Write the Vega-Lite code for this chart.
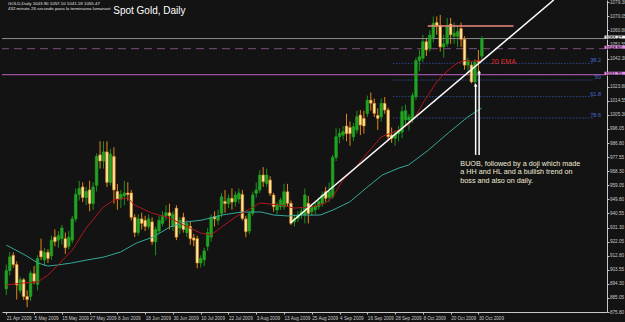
{
"$schema":"https://vega.github.io/schema/vega-lite/v6.json",
"width":605,"height":312,
"autosize":{"type":"none"},
"padding":{"left":2,"top":0,"right":18,"bottom":10},
"background":"#131313",
"config":{"view":{"stroke":null,"fill":"#131313"},"axis":{"grid":false,"title":null,"domainColor":"#c8c8c8","tickColor":"#c8c8c8","labelColor":"#c8c8c8","labelFont":"Liberation Sans","labelFontSize":4.6,"domainWidth":1,"tickSize":2,"tickWidth":1,"labelOverlap":false,"labelFlush":false,"tickCount":200}},
"datasets":{
"candles":[
{"i":0,"o":891,"h":907,"l":887,"c":903},{"i":1,"o":903,"h":915,"l":900,"c":912},{"i":2,"o":913,"h":915,"l":905,"c":907},{"i":3,"o":907,"h":909,"l":884,"c":893.5},{"i":4,"o":890,"h":899,"l":888,"c":897},{"i":5,"o":897,"h":898,"l":883.7,"c":886},{"i":6,"o":886,"h":890,"l":879,"c":884},{"i":7,"o":886,"h":903,"l":883,"c":901.4},{"i":8,"o":901,"h":906,"l":894,"c":896},{"i":9,"o":894,"h":913,"l":890,"c":911},
{"i":10,"o":916,"h":924,"l":910,"c":912},{"i":11,"o":910,"h":918,"l":906,"c":915},{"i":12,"o":915,"h":917,"l":908,"c":911},{"i":13,"o":912.7,"h":926,"l":910,"c":923},{"i":14,"o":925,"h":930,"l":919,"c":922},{"i":15,"o":923,"h":929,"l":918,"c":926},{"i":16,"o":924,"h":933,"l":920,"c":931},{"i":17,"o":924,"h":928,"l":914,"c":918},{"i":18,"o":919,"h":929,"l":917,"c":925},{"i":19,"o":923,"h":939,"l":921,"c":937},
{"i":20,"o":937,"h":957,"l":935,"c":953},{"i":21,"o":953,"h":962,"l":949,"c":957},{"i":22,"o":958,"h":961,"l":948,"c":951},{"i":23,"o":951,"h":958,"l":946,"c":955},{"i":24,"o":956,"h":962,"l":942,"c":947},{"i":25,"o":947,"h":961,"l":943,"c":958},{"i":26,"o":959,"h":980,"l":955,"c":978},{"i":27,"o":979,"h":988,"l":970,"c":975},{"i":28,"o":975,"h":988,"l":970,"c":981},{"i":29,"o":981,"h":988,"l":958,"c":961},
{"i":30,"o":961,"h":983,"l":959,"c":979.5},{"i":31,"o":978,"h":984,"l":947,"c":956},{"i":32,"o":955,"h":960,"l":943,"c":950},{"i":33,"o":950,"h":956,"l":944,"c":953},{"i":34,"o":952,"h":962,"l":946,"c":954},{"i":35,"o":954,"h":961,"l":949,"c":953},{"i":36,"o":954,"h":956,"l":936,"c":938},{"i":37,"o":938,"h":940,"l":925,"c":928},{"i":38,"o":928,"h":940,"l":926,"c":937},{"i":39,"o":937,"h":941,"l":930,"c":934},
{"i":40,"o":936,"h":939,"l":929,"c":932},{"i":41,"o":932,"h":940,"l":930,"c":937},{"i":42,"o":935,"h":938,"l":920,"c":922},{"i":43,"o":922,"h":932,"l":913,"c":930},{"i":44,"o":929,"h":939,"l":927,"c":936},{"i":45,"o":934,"h":942,"l":932,"c":939},{"i":46,"o":939,"h":946,"l":936,"c":941},{"i":47,"o":941,"h":947,"l":930,"c":939},{"i":48,"o":932,"h":942,"l":929,"c":940},{"i":49,"o":944,"h":946,"l":923,"c":925},
{"i":50,"o":931,"h":938,"l":927,"c":936},{"i":51,"o":938,"h":941,"l":928,"c":930},{"i":52,"o":928,"h":936,"l":925,"c":934},{"i":53,"o":932,"h":935,"l":920,"c":924},{"i":54,"o":924.5,"h":927,"l":919,"c":923},{"i":55,"o":924,"h":926,"l":904.5,"c":908},{"i":56,"o":908,"h":913,"l":905,"c":911},{"i":57,"o":910,"h":918,"l":906,"c":916},{"i":58,"o":919,"h":931,"l":916,"c":928},{"i":59,"o":925,"h":940,"l":922,"c":938},
{"i":60,"o":938.5,"h":942,"l":932,"c":937},{"i":61,"o":936,"h":943,"l":933,"c":939},{"i":62,"o":940.6,"h":954,"l":938,"c":951.5},{"i":63,"o":948.5,"h":956,"l":941,"c":947},{"i":64,"o":947,"h":953,"l":944,"c":950.5},{"i":65,"o":950.5,"h":957,"l":943,"c":948},{"i":66,"o":948.3,"h":955,"l":945,"c":952.7},{"i":67,"o":950,"h":957,"l":947,"c":954},{"i":68,"o":953,"h":956,"l":936,"c":937.3},{"i":69,"o":937,"h":939,"l":925,"c":928.6},
{"i":70,"o":929,"h":942,"l":927,"c":940.6},{"i":71,"o":940.6,"h":955,"l":939,"c":952.7},{"i":72,"o":953.8,"h":961,"l":951,"c":956},{"i":73,"o":956,"h":969,"l":954,"c":965.8},{"i":74,"o":965.8,"h":971,"l":958,"c":961.4},{"i":75,"o":960.3,"h":970,"l":958,"c":965.8},{"i":76,"o":962.5,"h":965,"l":952,"c":953.8},{"i":77,"o":952.7,"h":954,"l":941.7,"c":945},{"i":78,"o":942.8,"h":948,"l":940,"c":946.1},{"i":79,"o":945,"h":951,"l":943,"c":949.4},
{"i":80,"o":945,"h":960,"l":943,"c":954.8},{"i":81,"o":954.8,"h":960,"l":945,"c":947.2},{"i":82,"o":947.2,"h":949,"l":932.9,"c":934.1},{"i":83,"o":935,"h":940,"l":932,"c":937.3},{"i":84,"o":937.3,"h":942,"l":935,"c":939.5},{"i":85,"o":939.5,"h":944,"l":937,"c":941.7},{"i":86,"o":939.5,"h":957,"l":934,"c":952.7},{"i":87,"o":947.2,"h":952,"l":934,"c":940.6},{"i":88,"o":941.7,"h":947,"l":939,"c":945},{"i":89,"o":943,"h":948,"l":940,"c":945.5},
{"i":90,"o":945,"h":951,"l":943,"c":948.3},{"i":91,"o":947.2,"h":955,"l":945,"c":952.7},{"i":92,"o":954.8,"h":958,"l":948,"c":950.5},{"i":93,"o":951,"h":961,"l":948,"c":955},{"i":94,"o":951.5,"h":979,"l":950,"c":977.4},{"i":95,"o":977.4,"h":996.5,"l":975,"c":991},{"i":96,"o":991,"h":996.5,"l":986.6,"c":993.2},{"i":97,"o":992,"h":998,"l":989,"c":994.3},{"i":98,"o":998,"h":1006,"l":988,"c":993},{"i":99,"o":997,"h":1001,"l":985,"c":993},
{"i":100,"o":991,"h":1000,"l":988,"c":997.6},{"i":101,"o":995.4,"h":1008,"l":993,"c":1004.1},{"i":102,"o":1005.2,"h":1008.5,"l":992,"c":998.7},{"i":103,"o":1003,"h":1008,"l":993,"c":998},{"i":104,"o":1006.3,"h":1018,"l":1004,"c":1015},{"i":105,"o":1015,"h":1020,"l":1008,"c":1013},{"i":106,"o":1012.9,"h":1016,"l":1004,"c":1006.3},{"i":107,"o":1005,"h":1009.6,"l":995.4,"c":1003},{"i":108,"o":1004,"h":1016,"l":1001,"c":1012.9},{"i":109,"o":1012.9,"h":1017,"l":1006,"c":1008.5},
{"i":110,"o":1008.5,"h":1010,"l":989,"c":991},{"i":111,"o":992,"h":997,"l":987,"c":990},{"i":112,"o":990,"h":995,"l":985,"c":993},{"i":113,"o":993,"h":998,"l":988,"c":995},{"i":114,"o":994,"h":1011,"l":990,"c":1007.5},{"i":115,"o":1002,"h":1012,"l":998,"c":1008},{"i":116,"o":1002,"h":1006,"l":995,"c":1004},{"i":117,"o":1002,"h":1020,"l":1000,"c":1018},{"i":118,"o":1017.3,"h":1043,"l":1015,"c":1041},{"i":119,"o":1041,"h":1048,"l":1034,"c":1043.5},
{"i":120,"o":1042.5,"h":1058,"l":1040,"c":1053.4},{"i":121,"o":1053.4,"h":1056,"l":1044,"c":1048},{"i":122,"o":1049,"h":1061,"l":1047,"c":1057.8},{"i":123,"o":1056,"h":1070,"l":1053,"c":1065.5},{"i":124,"o":1066,"h":1070,"l":1058,"c":1064},{"i":125,"o":1064,"h":1071,"l":1047,"c":1050},{"i":126,"o":1050,"h":1058,"l":1043,"c":1052},{"i":127,"o":1052,"h":1069,"l":1050,"c":1063.3},{"i":128,"o":1065,"h":1069,"l":1052,"c":1058},{"i":129,"o":1057,"h":1066,"l":1052,"c":1059},
{"i":130,"o":1057,"h":1063,"l":1050,"c":1060},{"i":131,"o":1062,"h":1066,"l":1050,"c":1055},{"i":132,"o":1055,"h":1057,"l":1035,"c":1038},{"i":133,"o":1038,"h":1043,"l":1033,"c":1041},{"i":134,"o":1038,"h":1040,"l":1026,"c":1027},{"i":135,"o":1027,"h":1042,"l":1024.9,"c":1040},{"i":136,"o":1040.5,"h":1048,"l":1033.5,"c":1040},{"i":137,"o":1043.9,"h":1057.1,"l":1041.18,"c":1055.47}
],
"ema":[{"i":0,"p":893.5},{"i":5,"p":894.9},{"i":9,"p":895.5},{"i":12,"p":900},{"i":15,"p":907},{"i":19,"p":916.5},{"i":23,"p":931},{"i":28,"p":944.8},{"i":31,"p":949.4},{"i":35,"p":950.7},{"i":37,"p":946},{"i":42,"p":940.8},{"i":47,"p":937.6},{"i":51,"p":933},{"i":56,"p":927.7},{"i":59,"p":926.4},{"i":62,"p":931.6},{"i":66,"p":938.2},{"i":73,"p":947.4},{"i":79,"p":946.1},{"i":83,"p":944.1},{"i":88,"p":944.8},{"i":92,"p":947.4},{"i":94,"p":951.4},{"i":97,"p":962.5},{"i":100,"p":969.1},{"i":104,"p":980.3},{"i":108,"p":990.8},{"i":113,"p":995.4},{"i":116,"p":999},{"i":118,"p":1005},{"i":120,"p":1013},{"i":122,"p":1020},{"i":124,"p":1027},{"i":126,"p":1032},{"i":128,"p":1036},{"i":130,"p":1039.5},{"i":132,"p":1041},{"i":134,"p":1040.5},{"i":137,"p":1041.5}],
"sma":[{"i":0,"p":919.8},{"i":5.4,"p":913.2},{"i":9.1,"p":908},{"i":12,"p":906},{"i":14.8,"p":906.7},{"i":18.8,"p":908},{"i":23.3,"p":910},{"i":28.1,"p":911.9},{"i":32.9,"p":915.2},{"i":37.5,"p":921.1},{"i":42.3,"p":925.1},{"i":47.1,"p":931.6},{"i":51.6,"p":934.9},{"i":56.4,"p":936.2},{"i":62.1,"p":939.5},{"i":67.8,"p":941.5},{"i":73.4,"p":941.5},{"i":77.1,"p":939.5},{"i":81.1,"p":938.9},{"i":84.8,"p":939.5},{"i":90.4,"p":939.5},{"i":94.1,"p":942.8},{"i":98.9,"p":948.1},{"i":103.7,"p":957.3},{"i":108.3,"p":965.8},{"i":113.1,"p":970.4},{"i":115.9,"p":972.4},{"i":121.6,"p":982.2},{"i":127.3,"p":993.4},{"i":132.9,"p":1003.9},{"i":136.9,"p":1009.8}],
"fib":[{"a":111.5,"b":169,"p":1039.2,"t":"38.2"},{"a":111.5,"b":169,"p":1028.2,"t":"50"},{"a":111.5,"b":169,"p":1017.3,"t":"61.8"},{"a":111.5,"b":169,"p":1003.3,"t":"78.6"}],
"trend":[{"i":81.8,"p":934.3},{"i":157.7,"p":1080.8}],
"arrows":[{"i":135.2,"a":979,"b":1025},{"i":136.2,"a":979,"b":1033.5}],
"hlines":[{"p":1031.7,"k":"pink"},{"p":1055.47,"k":"grey"}],
"boxes":[{"p":1055.47,"t":"1055.47","f":"#f0f0f0"},{"p":1048.8,"t":"1048.80","f":"#e88ae8"},{"p":1031.7,"t":"1031.70","f":"#e88ae8"}],
"notes":[{"i":130.8,"p":973.0,"t":"BUOB, followed by a doji which made"},{"i":130.8,"p":967.5,"t":"a HH and  HL and a bullish trend on"},{"i":130.8,"p":961.9,"t":"boss and also on daily."}],
"labels":[{"i":30.8,"p":1073.6,"t":"Spot Gold, Daily","k":"title"},{"i":139.6,"p":1040.1,"t":"20 EMA","k":"ema"}],
"header":[{"i":0.5,"p":1078.4,"t":"GOLD,Daily  1043.90 1057.10 1041.18 1055.47"},{"i":0.5,"p":1075.0,"t":"432 minute 26 secunde pana la terminarea lumanarii"}],
"seg":[{"a":121.4,"b":146.1,"p":1063.7}],
"dash":[{"p":1048.8}]
},
"layer":[
{"data":{"name":"candles"},"mark":{"type":"rule","strokeWidth":1},
 "encoding":{"x":{"field":"i","type":"quantitative","scale":{"domain":[0.2,171.6],"nice":false,"zero":false},
   "axis":{"values":[0,8,16,24,32,40,48,56,64,72,80,88,96,104,112,120,128,136],"tickCount":200,"labelExpr":"['21 Apr 2009','5 May 2009','15 May 2009','27 May 2009','8 Jun 2009','18 Jun 2009','30 Jun 2009','10 Jul 2009','22 Jul 2009','3 Aug 2009','13 Aug 2009','25 Aug 2009','4 Sep 2009','16 Sep 2009','28 Sep 2009','8 Oct 2009','20 Oct 2009','30 Oct 2009'][round(datum.value/8)]","labelAlign":"left","labelPadding":1,"labelFlush":false,"labelOverlap":false}},
  "y":{"field":"l","type":"quantitative","scale":{"domain":[875.8,1080.8],"nice":false,"zero":false},
   "axis":{"orient":"right","tickCount":200,"values":[875.8,885.05,894.3,903.55,912.8,922.05,931.3,940.55,949.8,959.05,968.3,977.55,986.8,996.05,1005.3,1014.55,1023.8,1042.3,1051.55,1060.8,1070.05,1079.3],"format":".2f","labelPadding":0.5,"labelFlush":false,"labelOverlap":false}},
  "y2":{"field":"h"},
  "color":{"condition":{"test":"datum.c >= datum.o","value":"#1f8f1f"},"value":"#e0861a"}}},
{"data":{"name":"hlines"},"mark":{"type":"rule","strokeWidth":1},
 "encoding":{"y":{"field":"p","type":"quantitative"},"color":{"condition":{"test":"datum.k == 'pink'","value":"#c060c8"},"value":"#8c8c8c"}}},
{"data":{"name":"dash"},"mark":{"type":"rule","strokeWidth":1,"color":"#7a4e7a","strokeDash":[8,5]},"encoding":{"y":{"field":"p","type":"quantitative"}}},
{"data":{"name":"fib"},"mark":{"type":"rule","strokeWidth":1,"color":"#3f63c8","strokeDash":[1,2]},
 "encoding":{"x":{"field":"a","type":"quantitative"},"x2":{"field":"b"},"y":{"field":"p","type":"quantitative"}}},
{"data":{"name":"fib"},"mark":{"type":"text","fontSize":5.5,"font":"Liberation Sans","color":"#4a6ad8","align":"right","baseline":"bottom"},
 "encoding":{"x":{"datum":171.3,"type":"quantitative"},"y":{"field":"p","type":"quantitative"},"text":{"field":"t"}}},
{"data":{"name":"candles"},"mark":{"type":"bar","size":2.6,"strokeWidth":0.6},
 "encoding":{"x":{"field":"i","type":"quantitative"},"y":{"field":"o","type":"quantitative"},"y2":{"field":"c"},
  "fill":{"condition":{"test":"datum.c >= datum.o","value":"#22a322"},"value":"#ffe6a0"},
  "stroke":{"condition":{"test":"datum.c >= datum.o","value":"#22a322"},"value":"#e0861a"}}},
{"data":{"name":"sma"},"mark":{"type":"line","strokeWidth":1,"color":"#35a89a"},
 "encoding":{"x":{"field":"i","type":"quantitative"},"y":{"field":"p","type":"quantitative"}}},
{"data":{"name":"ema"},"mark":{"type":"line","strokeWidth":1,"color":"#b0161c"},
 "encoding":{"x":{"field":"i","type":"quantitative"},"y":{"field":"p","type":"quantitative"}}},
{"data":{"name":"seg"},"mark":{"type":"rule","strokeWidth":1.5,"color":"#f08a80"},
 "encoding":{"x":{"field":"a","type":"quantitative"},"x2":{"field":"b"},"y":{"field":"p","type":"quantitative"}}},
{"data":{"name":"trend"},"mark":{"type":"line","strokeWidth":1.5,"color":"#ffffff","clip":true},
 "encoding":{"x":{"field":"i","type":"quantitative"},"y":{"field":"p","type":"quantitative"}}},
{"data":{"name":"arrows"},"mark":{"type":"rule","strokeWidth":1.5,"color":"#ffffff"},
 "encoding":{"x":{"field":"i","type":"quantitative"},"y":{"field":"a","type":"quantitative"},"y2":{"field":"b"}}},
{"data":{"name":"arrows"},"mark":{"type":"point","shape":"triangle-up","filled":true,"size":14,"color":"#ffffff","opacity":1,"dy":2},
 "encoding":{"x":{"field":"i","type":"quantitative"},"y":{"field":"b","type":"quantitative"}}},
{"data":{"name":"notes"},"mark":{"type":"text","fontSize":7.2,"font":"Liberation Sans","color":"#f2ecd4","align":"left","baseline":"middle"},
 "encoding":{"x":{"field":"i","type":"quantitative"},"y":{"field":"p","type":"quantitative"},"text":{"field":"t"}}},
{"data":{"name":"header"},"mark":{"type":"text","fontSize":4.4,"font":"Liberation Sans","color":"#e0e0e0","align":"left","baseline":"middle"},
 "encoding":{"x":{"field":"i","type":"quantitative"},"y":{"field":"p","type":"quantitative"},"text":{"field":"t"}}},
{"data":{"name":"labels"},"mark":{"type":"text","font":"Liberation Sans","align":"left","baseline":"middle"},
 "encoding":{"x":{"field":"i","type":"quantitative"},"y":{"field":"p","type":"quantitative"},"text":{"field":"t"},
  "size":{"condition":{"test":"datum.k == 'title'","value":10},"value":7},
  "color":{"condition":{"test":"datum.k == 'title'","value":"#ffffff"},"value":"#e02a22"}}},
{"data":{"name":"boxes"},"mark":{"type":"rect","clip":false},
 "encoding":{"x":{"datum":172.3,"type":"quantitative"},"x2":{"datum":178.5},"y":{"field":"p","type":"quantitative"},"yOffset":{"value":-3},"y2":{"field":"p"},"y2Offset":{"value":3},"fill":{"field":"f","type":"nominal","scale":null}}},
{"data":{"name":"boxes"},"mark":{"type":"text","fontSize":4.6,"font":"Liberation Sans","color":"#000000","align":"left","baseline":"middle"},
 "encoding":{"x":{"datum":172.6,"type":"quantitative"},"y":{"field":"p","type":"quantitative"},"text":{"field":"t"}}}
]
}
